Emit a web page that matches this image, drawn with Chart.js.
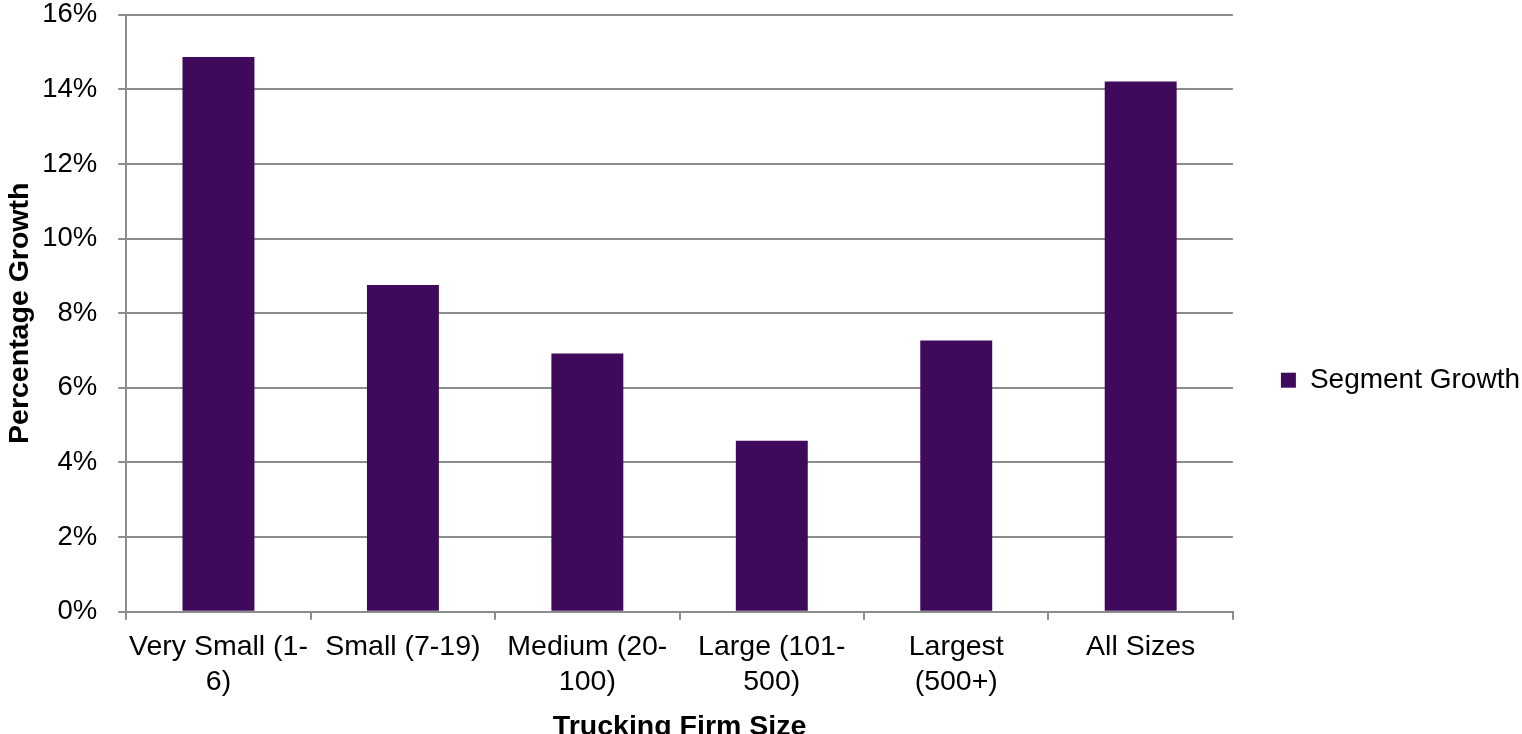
<!DOCTYPE html>
<html>
<head>
<meta charset="utf-8">
<script src="https://cdn.jsdelivr.net/npm/chart.js@4/dist/chart.umd.min.js"></script>
<style>
  html, body { margin: 0; padding: 0; background: #fff; }
  #wrap { width: 1522px; height: 734px; }
</style>
</head>
<body>
<div id="wrap"><canvas id="chart"></canvas></div>
<script>
// ===== DATA =====
const categories = [
  ['Very Small (1-', '6)'],
  ['Small (7-19)'],
  ['Medium (20-', '100)'],
  ['Large (101-', '500)'],
  ['Largest', '(500+)'],
  ['All Sizes']
]
const segmentGrowth = [14.87, 8.76, 6.92, 4.58, 7.27, 14.21]
const yTicks = [0, 2, 4, 6, 8, 10, 12, 14, 16]

const barColor = '#3f095c'
const gridColor = '#8c8c8c'
const fontFamily = '"Liberation Sans", Arial, sans-serif'

const ctx = document.getElementById('chart').getContext('2d')

new Chart(ctx, {
  type: 'bar',
  data: {
    labels: categories,
    datasets: [{
      label: 'Segment Growth',
      data: segmentGrowth,
      backgroundColor: barColor,
      borderWidth: 0,
      barPercentage: 0.39,
      categoryPercentage: 1
    }]
  },
  options: {
    responsive: true,
    maintainAspectRatio: false,
    animation: false,
    layout: {
      padding: { top: 0, right: -8, bottom: 0, left: 0 }
    },
    plugins: {
      tooltip: { enabled: false },
      legend: {
        display: true,
        position: 'right',
        // empty title only used to push the legend item down a bit
        title: {
          display: true,
          text: '',
          padding: { top: 0, bottom: 12 }
        },
        labels: {
          boxWidth: 15,
          boxHeight: 15,
          padding: 48,
          color: '#000',
          font: { family: fontFamily, size: 28 }
        }
      }
    },
    scales: {
      x: {
        grid: {
          display: true,
          offset: true,
          drawOnChartArea: false,
          drawTicks: true,
          tickLength: 8,
          color: gridColor,
          lineWidth: 2
        },
        border: { display: true, color: gridColor, width: 2 },
        ticks: {
          color: '#000',
          padding: 10,
          maxRotation: 0,
          autoSkip: false,
          font: { family: fontFamily, size: 28.5, lineHeight: 1.23 }
        },
        title: {
          display: true,
          text: 'Trucking Firm Size',
          color: '#000',
          padding: { top: 0, bottom: -10 },
          font: { family: fontFamily, size: 28.5, weight: 'bold' }
        }
      },
      y: {
        min: 0,
        max: 16,
        afterBuildTicks: function(axis) {
          axis.ticks = yTicks.map(v => ({ value: v }))
        },
        grid: {
          color: gridColor,
          lineWidth: 2,
          tickLength: 29,
          // only the last 8px next to the axis are visible
          tickBorderDash: [0, 21, 8]
        },
        border: { display: true, color: gridColor, width: 2 },
        ticks: {
          color: '#000',
          padding: 0,
          font: { family: fontFamily, size: 27.5, lineHeight: 1.08 },
          callback: function(value) {
            return value + '%'
          }
        },
        title: {
          display: true,
          text: 'Percentage Growth',
          color: '#000',
          padding: { top: 3, bottom: 5 },
          font: { family: fontFamily, size: 28.5, weight: 'bold' }
        }
      }
    }
  }
})
</script>
</body>
</html>
